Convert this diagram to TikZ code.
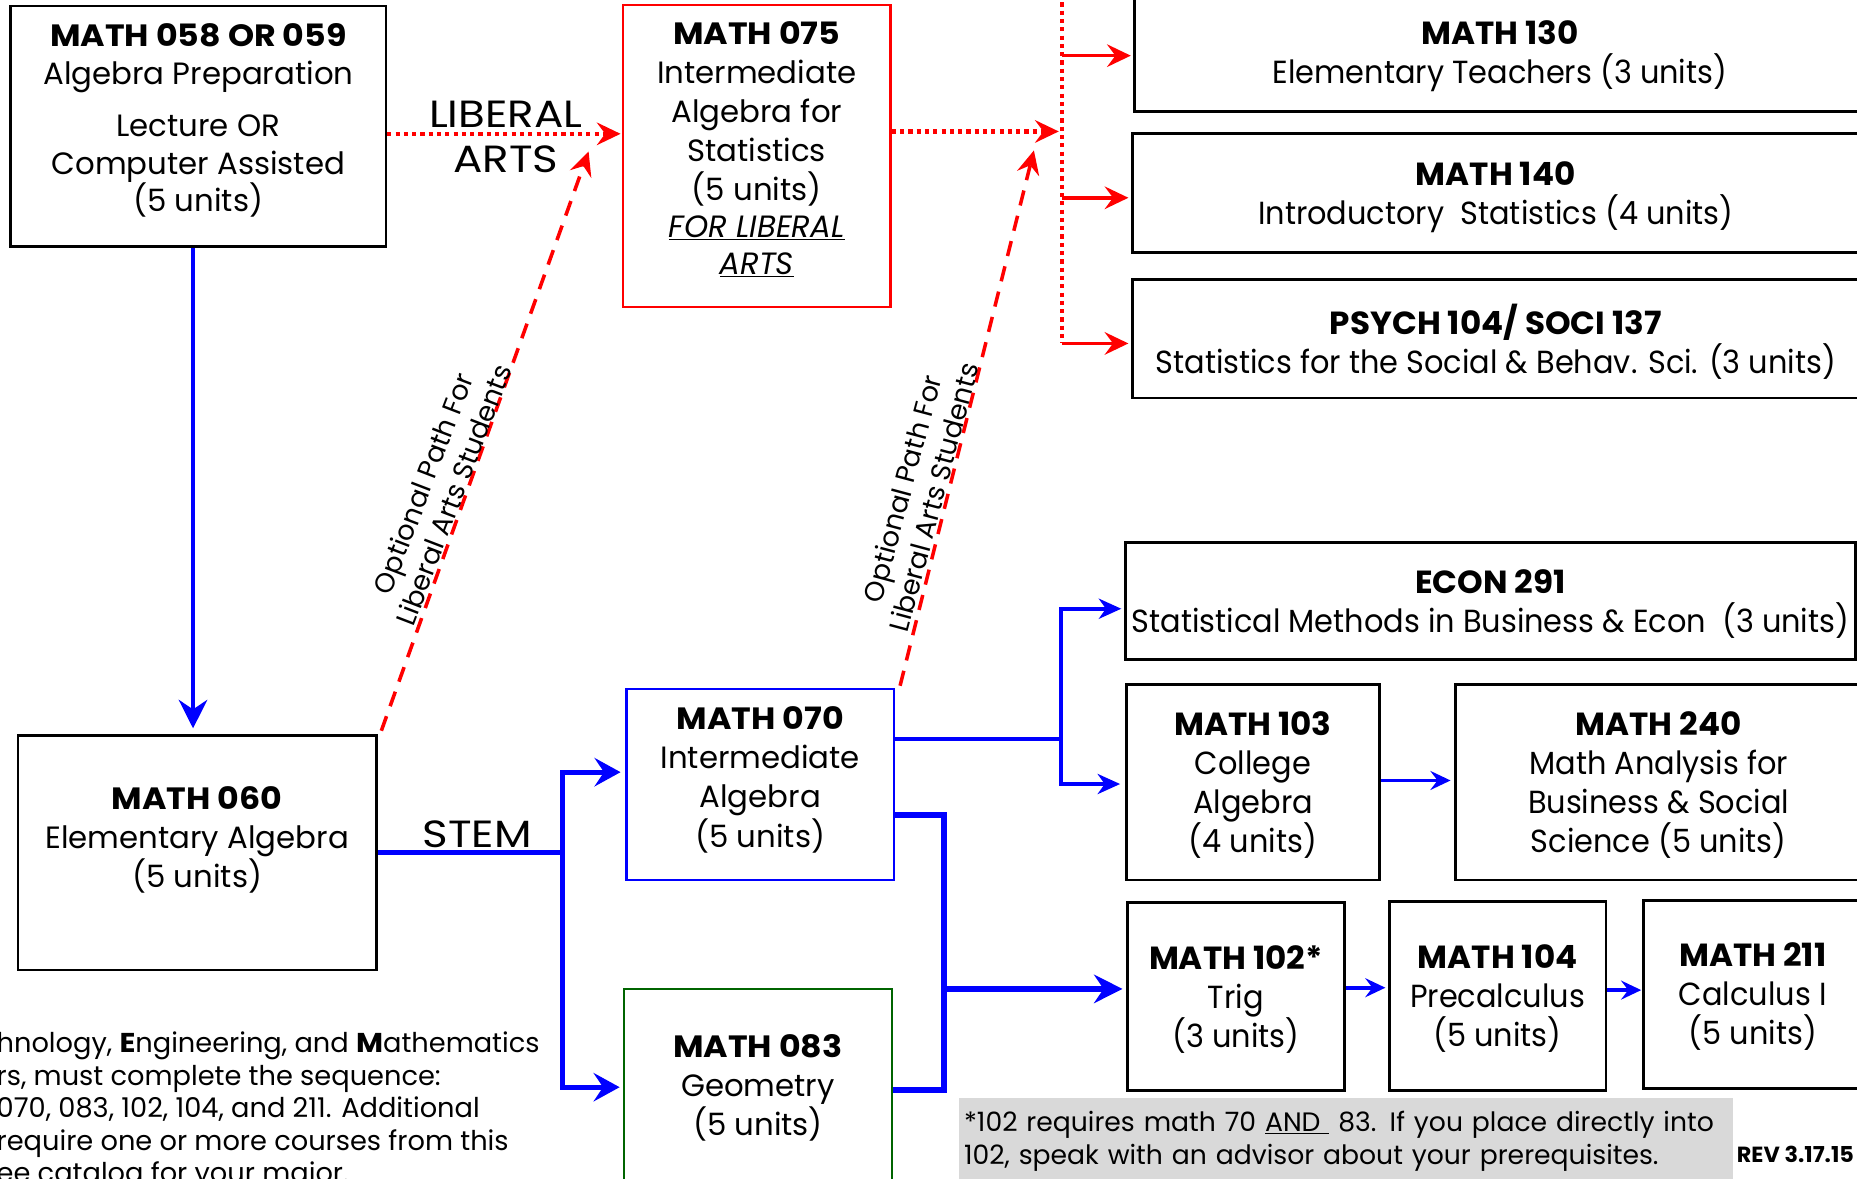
\documentclass[tikz,border=0pt]{standalone}
\usepackage{fontspec}
\setmainfont{Poppins}[BoldFeatures={FakeStretch=1.08}]
\newfontfamily\cond{Poppins}[FakeStretch=0.95, BoldFeatures={FakeStretch=1.02}]
\newfontfamily\wide{Poppins}[FakeStretch=1.15]
\usetikzlibrary{arrows.meta,calc}
\definecolor{notegray}{HTML}{D9D9D9}
\definecolor{dkgreen}{HTML}{006400}
\begin{document}
\begin{tikzpicture}[x=1pt,y=-1pt,
  lbox/.style={draw, line width=2pt, align=center, inner sep=0pt, font=\fontsize{26}{33}\selectfont},
  rbox/.style={draw, line width=2.4pt, align=center, inner sep=0pt, text depth=0.5pt, font=\cond\fontsize{27}{33}\selectfont},
  rdot/.style={draw=red, line width=3.5pt, dash pattern=on 3.5pt off 3.5pt},
  rdash/.style={draw=red, line width=3pt, dash pattern=on 13pt off 9pt},
  rsol/.style={draw=red, line width=3pt},
  rtip/.style={-{Stealth[length=20pt,width=19pt,inset=7pt]}},
  bl3/.style={draw=blue, line width=3pt},
  bl4/.style={draw=blue, line width=4pt},
  bl5/.style={draw=blue, line width=5pt},
  btip/.style={-{Stealth[length=24pt,width=24pt,inset=8pt]}},
  bsmall/.style={-{Stealth[length=17pt,width=16pt,inset=6pt]}},
  optlab/.style={align=center, font=\fontsize{23}{27.5}\selectfont, inner sep=0pt}
]
\useasboundingbox (0,0) rectangle (1568,995);
\clip (0,0) rectangle (1568,995);
\fill[white] (0,0) rectangle (1568,995);

% ---------- boxes ----------
\node[lbox, font=\fontsize{26}{31.5}\selectfont, minimum width=317pt, minimum height=203pt] (m058) at (167.5,106.5)
  {\textbf{MATH 058 OR 059}\\[0.5pt]Algebra Preparation\\[12.5pt]Lecture OR\\Computer Assisted\\(5 units)\\[-17pt]\mbox{}};
\node[lbox, draw=red, minimum width=226pt, minimum height=255pt] (m075) at (639,131.5)
  {\textbf{MATH 075}\\Intermediate\\Algebra for\\Statistics\\(5 units)\\[-2pt]\textit{\underline{FOR LIBERAL}}\\[-2pt]\textit{\underline{ARTS}}\\[-20pt]\mbox{}};
\node[rbox, minimum width=617pt, minimum height=99pt] (m130) at (1266.5,44.5)
  {\textbf{MATH 130}\\Elementary Teachers (3 units)};
\node[rbox, minimum width=614pt, minimum height=100pt] (m140) at (1263,163)
  {\textbf{MATH 140}\\Introductory\ \ Statistics (4 units)};
\node[rbox, minimum width=614pt, minimum height=100pt] (psy) at (1263,286)
  {\textbf{PSYCH 104/ SOCI 137}\\Statistics for the Social \& Behav. Sci. (3 units)};
\node[rbox, minimum width=617pt, minimum height=99pt] (econ) at (1258.5,507.5)
  {\textbf{ECON 291}\\Statistical Methods in Business \& Econ\ \ (3 units)};
\node[rbox, minimum width=214pt, minimum height=165pt] (m103) at (1058,660.5)
  {\textbf{MATH 103}\\College\\Algebra\\(4 units)};
\node[rbox, minimum width=343pt, minimum height=165pt] (m240) at (1400.5,660.5)
  {\textbf{MATH 240}\\Math Analysis for\\Business \& Social\\Science (5 units)};
\node[rbox, minimum width=183pt, minimum height=159pt] (m102) at (1043.5,841.5)
  {\textbf{MATH 102*}\\Trig\\(3 units)};
\node[rbox, minimum width=183pt, minimum height=160pt] (m104) at (1264.5,841)
  {\textbf{MATH 104}\\Precalculus\\(5 units)};
\node[rbox, minimum width=184pt, minimum height=159pt] (m211) at (1480,839.5)
  {\textbf{MATH 211}\\Calculus I\\(5 units)};
\node[lbox, minimum width=303pt, minimum height=198pt] (m060) at (166.5,720)
  {\textbf{MATH 060}\\Elementary Algebra\\(5 units)\\[-6pt]\mbox{}};
\node[lbox, draw=blue, minimum width=226pt, minimum height=161pt] (m070) at (642,662.5)
  {\textbf{MATH 070}\\Intermediate\\Algebra\\(5 units)\\[-20pt]\mbox{}};
\node[lbox, draw=dkgreen, line width=1.6pt, text depth=2pt, minimum width=226pt, minimum height=164pt] (m083) at (640,917)
  {\textbf{MATH 083}\\Geometry\\(5 units)};
\node[fill=notegray, inner sep=0pt, minimum width=653pt, minimum height=73pt, text width=645pt,
  align=left, font=\fontsize{22.5}{28}\selectfont] (note) at (1136.5,963.5)
  {*102 requires math 70 \underline{AND\ }\ 83. If you place directly into\\102, speak with an advisor about your prerequisites.};
\node[font=\cond\bfseries\fontsize{18.5}{20}\selectfont, inner sep=0pt] (rev) at (1516,975) {REV 3.17.15};
\node[anchor=north west, align=left, inner sep=0pt, font=\fontsize{23}{27.5}\selectfont] (stemnote) at (-3,871)
  {hnology, \textbf{E}ngineering, and \textbf{M}athematics\\rs, must complete the sequence:\\070, 083, 102, 104, and 211. Additional\\require one or more courses from this\\ee catalog for your major.};

% ---------- labels ----------
\node[align=center, inner sep=0pt, font=\wide\fontsize{32}{38}\selectfont] (lib) at (427,116) {LIBERAL\\ARTS};
\node[inner sep=0pt, font=\wide\fontsize{32}{36}\selectfont] (stem) at (403,704) {STEM};

% ---------- red connectors ----------
\coordinate (la) at (0,113);
\draw[rdot, rtip] (m058.east |- la) -- ([xshift=-1pt]m075.west |- la);
\coordinate (jr) at (897,111);
\draw[rdot, rtip] (m075.east |- jr) -- ([xshift=-3pt]jr);
\coordinate (rtop) at (897,-5);
\coordinate (rbot) at (897,290);
\draw[rdot] (rtop) -- (rbot);
\coordinate (r1) at (897,47);
\coordinate (r2) at (897,167);
\draw[rsol, rtip] (r1) -- ([xshift=-2pt]r1 -| m130.west);
\draw[rsol, rtip] (r2) -- ([xshift=-2pt]r2 -| m140.west);
\draw[rsol, rtip] (rbot) -- ([xshift=-2pt]rbot -| psy.west);

\coordinate (t1) at (497,128);
\coordinate (t2) at (873,127);
\draw[rdash, rtip] ([shift={(3pt,3pt)}]m060.north east) -- (t1);
\draw[rdash, rtip] ([shift={(4pt,2pt)}]m070.north east) -- (t2);
\node[optlab, rotate=69] (opt1) at (370,413) {Optional Path For\\Liberal Arts Students};
\node[optlab, rotate=75] (opt2) at (775,416) {Optional Path For\\Liberal Arts Students};

% ---------- blue connectors ----------
\coordinate (vx) at (163,0);
\draw[bl4, btip] (m058.south -| vx) -- ([yshift=5pt]m060.north -| vx);
\coordinate (s1) at (475,652);
\coordinate (s2) at (475,918);
\draw[bl4] (m060.east) -- (m060.east -| s1);
\draw[bl4, {Stealth[length=22pt,width=24pt,inset=8pt]}-{Stealth[length=22pt,width=24pt,inset=8pt]}]
  ([xshift=-4pt]s1 -| m070.west) -- (s1) -- (s2) -- ([xshift=-3pt]s2 -| m083.west);

\coordinate (e0) at (896,624);
\coordinate (e1) at (896,514);
\coordinate (e2) at (896,662);
\draw[bl3] (m070.east |- e0) -- (e0);
\draw[bl3, {Stealth[length=19pt,width=17pt,inset=6pt]}-{Stealth[length=19pt,width=17pt,inset=6pt]}]
  ([xshift=-2pt]e1 -| econ.west) -- (e1) -- (e2) -- ([xshift=-4pt]e2 -| m103.west);

\coordinate (g1) at (797,688);
\coordinate (g2) at (797,920);
\coordinate (g3) at (797,835);
\draw[bl5] (m070.east |- g1) -- (g1) -- (g2) -- (g2 -| m083.east);
\draw[bl5, btip] (g3) -- ([xshift=-3pt]g3 -| m102.west);

\coordinate (h1) at (1166,659);
\draw[bl3, bsmall] (m103.east |- h1) -- ([xshift=-3pt]m240.west |- h1);
\coordinate (k1) at (1136,834);
\draw[bl3, bsmall] (m102.east |- k1) -- ([xshift=-2pt]m104.west |- k1);
\coordinate (k2) at (1357,836);
\draw[bl3, bsmall] (m104.east |- k2) -- ([xshift=-1pt]m211.west |- k2);
\end{tikzpicture}
\end{document}
